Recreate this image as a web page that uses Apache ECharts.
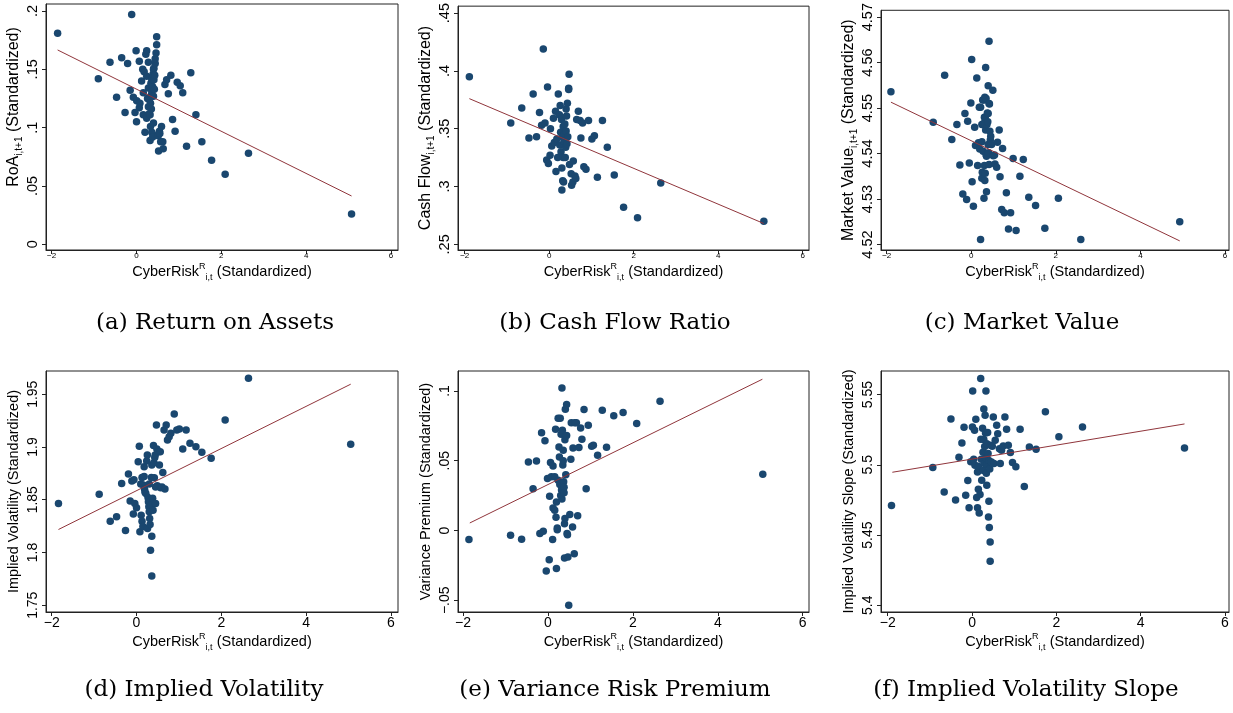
<!DOCTYPE html>
<html><head><meta charset="utf-8">
<script src="https://cdn.jsdelivr.net/npm/echarts@6/dist/echarts.min.js"></script>
<style>html,body{margin:0;padding:0;background:#fff}#c{width:1233px;height:713px}</style>
</head><body><div id="c"></div>
<script>
// ---------------- data ----------------
const xTicks = [-2, 0, 2, 4, 6];

const roaPts = [[-1.86,.181],[-0.90,.142],[-0.625,.156],[-0.47,.126],[-0.35,.160],[-0.27,.113],[-0.21,.155],[-0.15,.132],[-0.114,.197],[-0.075,.126],[-0.035,.113],[-0.01,.166],[0.0,.105],[0.005,.123],[0.066,.157],[0.066,.117],[0.08,.121],[0.12,.140],[0.146,.150],[0.16,.130],[0.16,.111],[0.18,.148],[0.20,.096],[0.22,.163],[0.24,.166],[0.24,.144],[0.24,.108],[0.26,.125],[0.28,.156],[0.28,.134],[0.28,.118],[0.30,.124],[0.30,.112],[0.32,.111],[0.32,.089],[0.33,.101],[0.33,.121],[0.34,.138],[0.35,.128],[0.35,.116],[0.36,.131],[0.36,.096],[0.36,.142],[0.37,.142],[0.38,.135],[0.38,.092],[0.39,.146],[0.40,.104],[0.40,.127],[0.40,.150],[0.41,.141],[0.41,.151],[0.42,.133],[0.43,.145],[0.44,.155],[0.44,.159],[0.46,.164],[0.475,.171],[0.475,.178],[0.51,.094],[0.51,.093],[0.52,.080],[0.54,.097],[0.55,.095],[0.57,.088],[0.59,.101],[0.62,.088],[0.63,.082],[0.67,.137],[0.71,.141],[0.75,.129],[0.81,.145],[0.85,.107],[0.91,.097],[0.96,.139],[1.03,.136],[1.09,.130],[1.18,.084],[1.28,.147],[1.40,.111],[1.54,.088],[1.77,.072],[2.09,.060],[2.64,.078],[5.07,.026]];
const roaFit = [[-1.86,.1666],[5.07,.0414]];
const roaTicks = [0, 0.05, 0.1, 0.15, 0.2];

const cfPts = [[-1.89,.395],[-0.91,.355],[-0.65,.368],[-0.48,.342],[-0.38,.380],[-0.30,.343],[-0.23,.364],[-0.18,.353],[-0.14,.419],[-0.10,.355],[-0.06,.323],[-0.04,.386],[-0.02,.320],[0.02,.327],[0.03,.350],[0.06,.335],[0.10,.359],[0.12,.338],[0.15,.365],[0.16,.313],[0.18,.341],[0.20,.325],[0.215,.380],[0.24,.362],[0.25,.336],[0.26,.370],[0.27,.347],[0.28,.330],[0.29,.358],[0.30,.316],[0.30,.297],[0.31,.343],[0.32,.305],[0.33,.325],[0.33,.352],[0.34,.304],[0.35,.339],[0.36,.345],[0.37,.354],[0.38,.325],[0.39,.334],[0.40,.367],[0.40,.348],[0.41,.361],[0.42,.337],[0.43,.372],[0.44,.343],[0.46,.385],[0.46,.384],[0.47,.397],[0.48,.319],[0.52,.311],[0.53,.301],[0.56,.304],[0.57,.322],[0.61,.309],[0.63,.307],[0.65,.358],[0.69,.365],[0.73,.357],[0.75,.342],[0.79,.355],[0.82,.317],[0.87,.315],[0.93,.357],[1.01,.341],[1.07,.344],[1.14,.308],[1.26,.357],[1.375,.334],[1.54,.310],[1.76,.282],[2.09,.273],[2.64,.303],[5.08,.270]];
const cfFit = [[-1.89,.376],[5.08,.268]];
const cfTicks = [0.25, 0.3, 0.35, 0.4, 0.45];

const mvPts = [[-1.90,4.5536],[-0.90,4.5469],[-0.63,4.5572],[-0.46,4.5431],[-0.34,4.5464],[-0.27,4.5375],[-0.20,4.5311],[-0.15,4.5488],[-0.11,4.5299],[-0.085,4.5471],[-0.047,4.5379],[-0.01,4.5511],[0.01,4.5607],[0.02,4.5338],[0.05,4.5284],[0.08,4.5458],[0.10,4.5418],[0.13,4.5566],[0.15,4.5374],[0.17,4.5424],[0.19,4.5502],[0.20,4.5410],[0.22,4.5211],[0.22,4.5502],[0.25,4.5464],[0.25,4.5426],[0.25,4.5346],[0.26,4.5359],[0.27,4.5518],[0.28,4.5405],[0.29,4.5466],[0.30,4.5302],[0.30,4.5518],[0.31,4.5374],[0.31,4.5480],[0.32,4.5341],[0.32,4.5524],[0.33,4.5357],[0.33,4.5480],[0.34,4.5589],[0.34,4.5452],[0.35,4.5521],[0.35,4.5398],[0.36,4.5316],[0.36,4.5394],[0.37,4.5464],[0.38,4.5489],[0.39,4.5470],[0.40,4.5549],[0.40,4.5488],[0.40,4.5420],[0.41,4.5402],[0.42,4.5510],[0.42,4.5376],[0.42,4.5647],[0.43,4.5509],[0.44,4.5449],[0.45,4.5430],[0.46,4.5438],[0.48,4.5420],[0.51,4.5539],[0.52,4.5395],[0.55,4.5397],[0.56,4.5377],[0.60,4.5370],[0.62,4.5425],[0.66,4.5452],[0.68,4.5349],[0.72,4.5277],[0.74,4.5411],[0.78,4.5270],[0.83,4.5314],[0.88,4.5234],[0.93,4.5270],[0.99,4.5389],[1.06,4.5231],[1.15,4.5350],[1.23,4.5387],[1.36,4.5304],[1.52,4.5286],[1.74,4.5236],[2.06,4.5302],[2.59,4.5211],[4.93,4.5250]];
const mvFit = [[-1.90,4.5513],[4.93,4.5208]];
const mvTicks = [4.52, 4.53, 4.54, 4.55, 4.56, 4.57];

const ivPts = [[-1.84,1.8465],[-0.88,1.8551],[-0.62,1.8297],[-0.47,1.8339],[-0.35,1.8655],[-0.26,1.8209],[-0.19,1.8743],[-0.15,1.8487],[-0.11,1.8677],[-0.075,1.8364],[-0.06,1.8690],[-0.04,1.8465],[0.0,1.8424],[0.04,1.8861],[0.066,1.9006],[0.08,1.8196],[0.10,1.8650],[0.11,1.8354],[0.13,1.8297],[0.13,1.8710],[0.15,1.8247],[0.16,1.8640],[0.18,1.8813],[0.18,1.8720],[0.19,1.8600],[0.20,1.8570],[0.22,1.8560],[0.24,1.8867],[0.255,1.8924],[0.26,1.8228],[0.27,1.8520],[0.28,1.8480],[0.29,1.8434],[0.30,1.8386],[0.30,1.8650],[0.31,1.8323],[0.32,1.8266],[0.33,1.8022],[0.34,1.8450],[0.35,1.8710],[0.36,1.8155],[0.36,1.7778],[0.36,1.8829],[0.38,1.8513],[0.39,1.8400],[0.40,1.9013],[0.41,1.8851],[0.42,1.8709],[0.43,1.8900],[0.44,1.8924],[0.45,1.8465],[0.45,1.8620],[0.47,1.9209],[0.48,1.8981],[0.49,1.8633],[0.52,1.8955],[0.54,1.8829],[0.56,1.8955],[0.57,1.8614],[0.60,1.8620],[0.62,1.8759],[0.65,1.9161],[0.67,1.8601],[0.70,1.9209],[0.73,1.9066],[0.77,1.9098],[0.81,1.9130],[0.89,1.9313],[0.95,1.9161],[1.01,1.9171],[1.09,1.8981],[1.17,1.9161],[1.26,1.9035],[1.40,1.9003],[1.54,1.8949],[1.76,1.8892],[2.09,1.9256],[2.64,1.9652],[5.05,1.9025]];
const ivFit = [[-1.84,1.8218],[5.05,1.9595]];
const ivTicks = [1.75, 1.8, 1.85, 1.9, 1.95];

const vpPts = [[-1.86,-0.0065],[-0.88,-0.0034],[-0.62,-0.0063],[-0.46,0.0491],[-0.35,0.0300],[-0.27,0.0498],[-0.19,-0.0022],[-0.15,0.0701],[-0.11,-0.0006],[-0.07,0.0644],[-0.04,-0.0290],[-0.01,0.0372],[0.03,-0.0209],[0.04,0.0245],[0.06,0.0487],[0.08,0.0385],[0.11,-0.0065],[0.12,0.0463],[0.12,0.0162],[0.16,0.0146],[0.16,0.0385],[0.18,0.0726],[0.19,0.0095],[0.20,0.0205],[0.20,-0.0273],[0.22,0.0018],[0.22,0.0005],[0.24,0.0360],[0.24,0.0805],[0.26,0.0599],[0.27,0.0527],[0.28,0.0330],[0.29,0.0805],[0.30,0.0250],[0.31,0.0690],[0.32,0.0290],[0.33,0.1022],[0.33,0.0225],[0.34,0.0718],[0.35,0.0470],[0.36,0.0575],[0.36,0.0500],[0.37,0.0350],[0.38,0.0310],[0.38,0.0270],[0.39,-0.0197],[0.39,0.0049],[0.40,0.0086],[0.40,0.0650],[0.41,0.0869],[0.42,0.0400],[0.44,0.0903],[0.44,0.0680],[0.45,-0.0022],[0.46,-0.0030],[0.47,-0.0190],[0.49,-0.0536],[0.515,0.0115],[0.54,0.0511],[0.55,0.0773],[0.58,0.0025],[0.59,0.0592],[0.62,-0.0166],[0.63,0.0773],[0.67,0.0773],[0.70,0.0105],[0.73,0.0595],[0.77,0.0735],[0.80,0.0654],[0.85,0.0867],[0.90,0.0300],[0.95,0.0754],[1.03,0.0604],[1.07,0.0611],[1.17,0.0540],[1.28,0.0862],[1.38,0.0597],[1.55,0.0822],[1.77,0.0845],[2.09,0.0766],[2.64,0.0926],[5.06,0.0403]];
const vpFit = [[-1.84,0.0054],[5.05,0.1084]];
const vpTicks = [-0.05, 0, 0.05, 0.1];

const slPts = [[-1.91,5.4710],[-0.93,5.4980],[-0.66,5.4807],[-0.50,5.5327],[-0.39,5.4750],[-0.31,5.5054],[-0.24,5.5156],[-0.19,5.5267],[-0.15,5.4783],[-0.10,5.4888],[-0.07,5.4695],[-0.03,5.5021],[0.01,5.5270],[0.016,5.5526],[0.04,5.5040],[0.06,5.5246],[0.07,5.4997],[0.09,5.5324],[0.11,5.4767],[0.13,5.4695],[0.13,5.4949],[0.15,5.4826],[0.15,5.4990],[0.17,5.4657],[0.19,5.4788],[0.206,5.5614],[0.21,5.5182],[0.22,5.5040],[0.23,5.4890],[0.25,5.5260],[0.26,5.5090],[0.27,5.4960],[0.28,5.5398],[0.28,5.5180],[0.29,5.5010],[0.30,5.5130],[0.31,5.5353],[0.32,5.5226],[0.33,5.5526],[0.33,5.5050],[0.34,5.4940],[0.35,5.4854],[0.35,5.5150],[0.36,5.5000],[0.37,5.5230],[0.38,5.5080],[0.39,5.4629],[0.40,5.4740],[0.40,5.5030],[0.41,5.4553],[0.42,5.4970],[0.43,5.4451],[0.43,5.4313],[0.44,5.5140],[0.46,5.5020],[0.48,5.5132],[0.505,5.5341],[0.52,5.5009],[0.55,5.5175],[0.585,5.5281],[0.61,5.5222],[0.65,5.5115],[0.67,5.5009],[0.70,5.5104],[0.74,5.5134],[0.78,5.5341],[0.82,5.5253],[0.86,5.5140],[0.91,5.5087],[0.96,5.5016],[1.04,5.4987],[1.14,5.5253],[1.24,5.4845],[1.36,5.5127],[1.52,5.5111],[1.74,5.5377],[2.06,5.5199],[2.62,5.5270],[5.04,5.5120]];
const slFit = [[-1.89,5.4947],[5.04,5.5291]];
const slTicks = [5.4, 5.45, 5.5, 5.55];

const yTitles = [
  '{m|RoA}{s|i,t+1}{m| (Standardized)}',
  '{m|Cash Flow}{s|i,t+1}{m| (Standardized)}',
  '{m|Market Value}{s|i,t+1}{m| (Standardized)}',
  '{m|Implied Volatility (Standardized)}',
  '{m|Variance Premium (Standardized)}',
  '{m|Implied Volatility Slope (Standardized)}'
];
const xTitle = '{m|CyberRisk}{p|R}{s|i,t}{m| (Standardized)}';
const captions = ['(a) Return on Assets', '(b) Cash Flow Ratio', '(c) Market Value',
                  '(d) Implied Volatility', '(e) Variance Risk Premium', '(f) Implied Volatility Slope'];

// ---------------- layout ----------------
const panels = [
  {pts: roaPts, fit: roaFit, ticks: roaTicks, g:[46,4,352,246],  xr:[-2.134,6.165], yr:[-0.0049,0.206], top:true, shift:40},
  {pts: cfPts,  fit: cfFit,  ticks: cfTicks,  g:[458,4,351,246], xr:[-2.159,6.149], yr:[0.2451,0.456], top:true, shift:0},
  {pts: mvPts,  fit: mvFit,  ticks: mvTicks,  g:[881,4,348,246], xr:[-2.135,6.095], yr:[4.5188,4.5715], top:true, shift:0},
  {pts: ivPts,  fit: ivFit,  ticks: ivTicks,  g:[46,371,352,241],  xr:[-2.134,6.165], yr:[1.7436,1.972], top:false, shift:0},
  {pts: vpPts,  fit: vpFit,  ticks: vpTicks,  g:[458,371,351,241], xr:[-2.118,6.148], yr:[-0.0584,0.1143], top:false, shift:0},
  {pts: slPts,  fit: slFit,  ticks: slTicks,  g:[881,371,348,241], xr:[-2.159,6.095], yr:[5.3952,5.5668], top:false, shift:0}
];
const capPos = [[215,323],[615,323],[1022,323],[204,690],[615,690],[1026,690]];

const FONT = '"Liberation Sans", Arial, sans-serif';
function fmt(v){
  let s = String(Math.round(v*10000)/10000);
  s = s.replace(/^0\./,'.').replace(/^-0\./,'-.');
  return s.replace('-', '\u2212');
}
function makeRich(size){
  return {
    m: {fontSize: size, fontFamily: FONT, color: '#000', lineHeight: 20},
    s: {fontSize: Math.round(size*0.62), fontFamily: FONT, color: '#000', lineHeight: 20, verticalAlign: 'bottom'},
    p: {fontSize: Math.round(size*0.62), fontFamily: FONT, color: '#000', lineHeight: 20, verticalAlign: 'top'}
  };
}

const grid = [], xAxis = [], yAxis = [], series = [], graphic = [];
panels.forEach((p, i) => {
  grid.push({left: p.g[0], top: p.g[1], width: p.g[2], height: p.g[3], show: true,
             borderColor: '#222', borderWidth: 1, backgroundColor: '#fff', containLabel: false});
  xAxis.push({type: 'value', gridIndex: i, min: p.xr[0], max: p.xr[1],
    axisLine: {show: true, onZero: false, lineStyle: {color: '#222', width: 1}},
    axisTick: {show: true, inside: false, length: 4, customValues: xTicks, lineStyle: {color: '#222'}},
    axisLabel: {customValues: xTicks, formatter: fmt, fontFamily: FONT, color: '#000',
                fontSize: p.top ? 8 : 14, margin: p.top ? 2 : 4},
    splitLine: {show: false},
    name: xTitle, nameLocation: 'middle', nameGap: p.top ? 12 : 20,
    nameTextStyle: {rich: makeRich(14.5)}
  });
  yAxis.push({type: 'value', gridIndex: i, min: p.yr[0], max: p.yr[1],
    axisLine: {show: true, onZero: false, lineStyle: {color: '#222', width: 1}},
    axisTick: {show: true, inside: false, length: 4, customValues: p.ticks, lineStyle: {color: '#222'}},
    axisLabel: {customValues: p.ticks, formatter: fmt, fontFamily: FONT, color: '#000',
                fontSize: p.top ? 14.5 : 14, rotate: 90, margin: 6},
    splitLine: {show: false},
    name: yTitles[i], nameLocation: 'middle', nameRotate: 90, nameGap: 22,
    nameTextStyle: {rich: makeRich(p.top ? 16 : 14.5), padding: [0, 0, 0, p.shift]}
  });
  series.push({type: 'scatter', xAxisIndex: i, yAxisIndex: i, data: p.pts, symbolSize: 7.5,
               itemStyle: {color: '#1a476f', opacity: 1}, silent: true, z: 2});
  series.push({type: 'line', xAxisIndex: i, yAxisIndex: i, data: p.fit, showSymbol: false,
               lineStyle: {color: '#90353b', width: 1}, silent: true, z: 3});
  graphic.push({type: 'text', x: capPos[i][0], y: capPos[i][1],
    style: {text: captions[i], font: '23px "DejaVu Serif", serif', fill: '#000',
            textAlign: 'center', textVerticalAlign: 'middle'}});
});

const chart = echarts.init(document.getElementById('c'), null, {renderer: 'canvas'});
chart.setOption({animation: false, backgroundColor: '#fff', grid, xAxis, yAxis, series, graphic});
</script></body></html>
